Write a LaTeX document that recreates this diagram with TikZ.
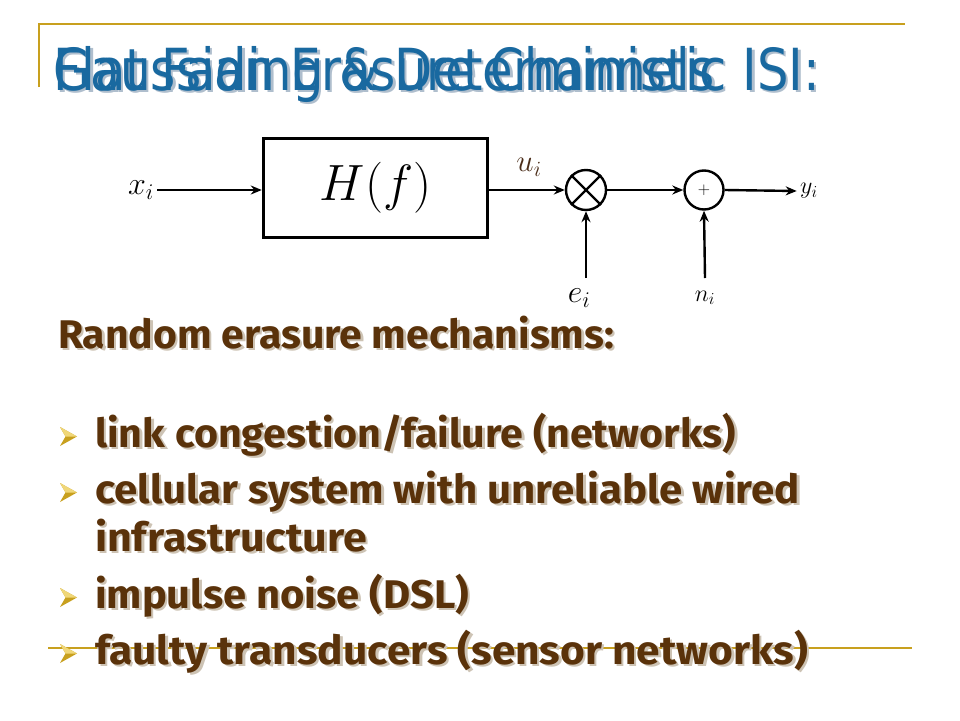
\RequirePackage{fix-cm}
\documentclass[tikz,border=0pt]{standalone}
\usepackage{fontspec}
\usepackage{graphicx}
\usetikzlibrary{arrows.meta}
\newfontfamily\titlefont{DejaVu Sans}
\newfontfamily\bodyfont{Fira Sans}[BoldFont={Fira Sans Bold}]
\definecolor{titleblue}{RGB}{25,105,160}
\definecolor{titleshadow}{RGB}{175,190,205}
\definecolor{gold}{RGB}{200,160,30}
\definecolor{goldlight}{RGB}{240,215,120}
\definecolor{bodybrown}{RGB}{90,50,10}
\definecolor{bodyshadow}{RGB}{205,195,180}
\definecolor{ubrown}{RGB}{75,45,25}
\newcommand\fitw[2]{\resizebox{#1pt}{\height}{#2}}
\newcommand\tsz{\fontsize{58}{60}\selectfont}
\newcommand\bsz{\fontsize{40}{44}\selectfont\bodyfont\bfseries}
\tikzset{
  txt/.style={anchor=base west, inner sep=0pt, outer sep=0pt},
  wire/.style={line width=2.4pt, -{Stealth[length=11pt,width=9pt]}},
  sumnode/.style={circle, draw, line width=2.4pt, minimum size=40pt, inner sep=0pt},
  deco/.style={gold, line width=2pt},
  bulletmark/.style={fill=gold, draw=none}
}
\begin{document}
\begin{tikzpicture}[x=1pt,y=-1pt]
\useasboundingbox (0,0) rectangle (960,720);
\fill[white] (0,0) rectangle (960,720);
% slide decorations
\draw[deco] (39,87) -- (39,24) -- (905,24);
\draw[deco] (48,648) -- (912,648);
% titles (overlapping)
\node[txt, text=titleshadow] (t1s) at (55.5,92.5) {\tsz\fitw{662}{\titlefont Gaussian Erasure Channels}};
\node[txt, text=titleshadow] (t2s) at (55.5,92.5) {\tsz\fitw{767}{\titlefont Flat Fading \& Deterministic ISI:}};
\node[txt, text=titleblue] (t1) at (53,90) {\tsz\fitw{662}{\titlefont Gaussian Erasure Channels}};
\node[txt, text=titleblue] (t2) at (53,90) {\tsz\fitw{767}{\titlefont Flat Fading \& Deterministic ISI:}};
% block diagram
\node[draw, line width=3.5pt, minimum width=224pt, minimum height=99pt, inner sep=0pt] (H) at (375.5,188) {\fontsize{51}{54}\selectfont $H(f)$};
\node (x) at (141,190) {\fontsize{32}{34}\selectfont $x_i$};
\node[sumnode] (m) at (586,190) {};
\draw[line width=2.4pt] (m.north east) -- (m.south west) (m.north west) -- (m.south east);
\node[sumnode, minimum size=39pt] (p) at (704,190) {\fontsize{17}{18}\selectfont $+$};
\node (y) at (809,191) {\fontsize{24}{26}\selectfont $y_i$};
\node[text=ubrown] (u) at (529,167) {\fontsize{31}{33}\selectfont $u_i$};
\coordinate (ein) at (586,278);
\coordinate (nin) at (705,278);
\node (e) at (579,298) {\fontsize{32}{34}\selectfont $e_i$};
\node (n) at (705,298) {\fontsize{24}{26}\selectfont $n_i$};
\draw[wire] (x.east) -- (x.east -| H.west);
\draw[wire] (H.east |- m.west) -- (m.west);
\draw[wire] (m.east) -- (p.west);
\draw[wire] (p.east) -- (y.west);
\draw[wire] (ein) -- (m.south);
\draw[wire] (nin) -- (p.south);
% body text
\begin{scope}
\node[txt, text=bodyshadow] (hs) at (60.5,350.5) {\bsz\fitw{556}{Random erasure mechanisms:}};
\node[txt, text=bodybrown] (h) at (58,348) {\bsz\fitw{556}{Random erasure mechanisms:}};
\foreach \name/\yy/\ww/\tx in {
  l1/447/641/{link congestion/failure (networks)},
  l2/503/705/{cellular system with unreliable wired},
  l3/551/272/{infrastructure},
  l4/608/374/{impulse noise (DSL)},
  l5/664/713/{faulty transducers (sensor networks)}}{
  \node[txt, text=bodyshadow] (\name s) at (97.5,\yy+2.5) {\bsz\fitw{\ww}{\tx}};
  \node[txt, text=bodybrown] (\name) at (95,\yy) {\bsz\fitw{\ww}{\tx}};
}
\foreach \yy in {447,503,608,664}{
  \fill[bulletmark] (60,\yy-20) -- (77,\yy-10.5) -- (60,\yy-1) -- (65.5,\yy-10.5) -- cycle;
  \fill[goldlight] (60,\yy-20) -- (77,\yy-10.5) -- (65.5,\yy-10.5) -- cycle;
}
\end{scope}
\end{tikzpicture}
\end{document}
